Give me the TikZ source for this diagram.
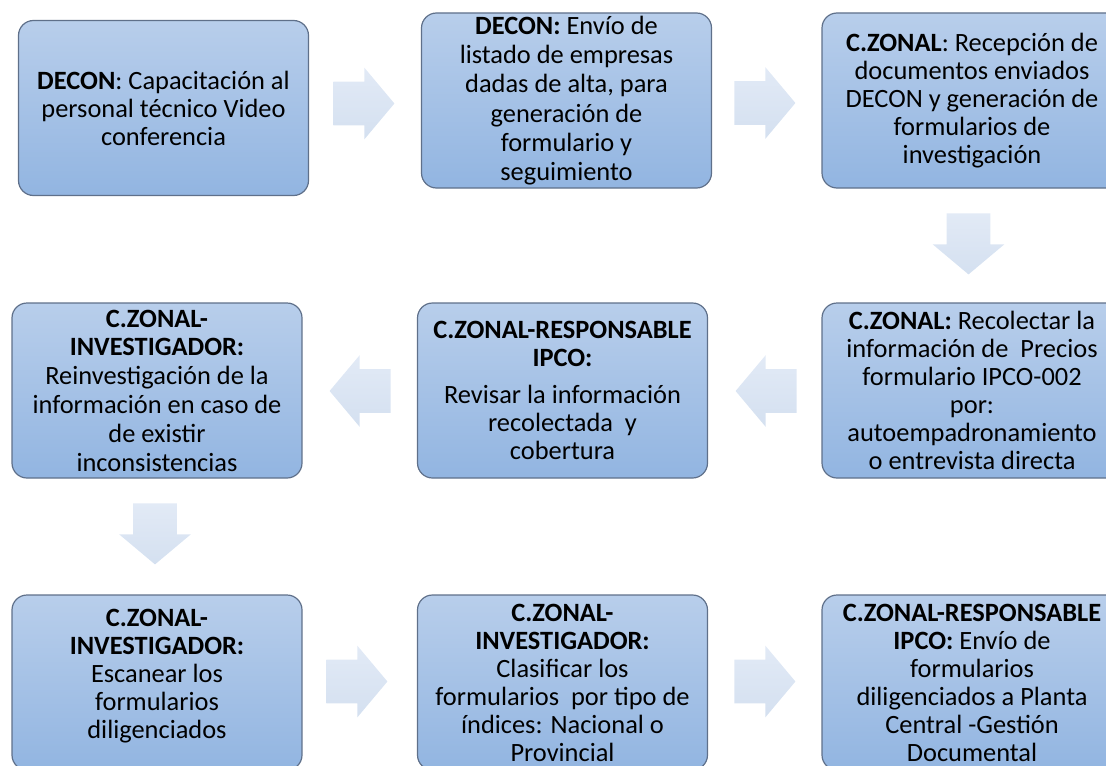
\documentclass[tikz,border=0pt]{standalone}
\usepackage{fontspec}
\setmainfont{Carlito}
\usetikzlibrary{shapes.arrows}
\definecolor{boxtop}{RGB}{184,206,235}
\definecolor{boxbot}{RGB}{146,181,225}
\definecolor{boxline}{RGB}{95,112,138}
\definecolor{arrtop}{RGB}{226,234,246}
\definecolor{arrbot}{RGB}{212,224,240}
\begin{document}
\begin{tikzpicture}[x=0.5pt,y=-0.5pt,
    stepbox/.style={draw=boxline,line width=0.6pt,rounded corners=7.5pt,
      top color=boxtop,bottom color=boxbot,inner sep=0pt,
      minimum width=145pt,minimum height=87.5pt,align=center,
      font=\fontsize{13.2}{14}\selectfont},
    wide/.style={minimum width=150pt},
    blockarrow/.style={single arrow,draw=none,anchor=tail,
      inner xsep=0pt,inner ysep=10.75pt,minimum height=30.5pt,
      single arrow head extend=7pt,single arrow tip angle=100,
      top color=arrtop,bottom color=arrbot},
    downarrow/.style={blockarrow,shape border rotate=270,
      inner xsep=10.75pt,inner ysep=0pt}]
  \clip (0,0) rectangle (1106,765);
  % row 1
  \node[stepbox] (b1) at (163.5,108) {\textbf{DECON}: Capacitación al\\personal técnico Video\\conferencia};
  \node[stepbox,font=\fontsize{13.2}{14.65}\selectfont] (b2) at (566.5,100.5) {\textbf{DECON:} Envío de\\listado de empresas\\dadas de alta, para\\generación de\\formulario y\\seguimiento};
  \node[stepbox,wide] (b3) at (972,100.5) {\textbf{C.ZONAL}: Recepción de\\documentos enviados\\DECON y generación de\\formularios de\\investigación};
  % row 2
  \node[stepbox,font=\fontsize{13.2}{14.4}\selectfont] (b4) at (157,390.5) {\textbf{C.ZONAL-}\\\textbf{INVESTIGADOR:}\\Reinvestigación de la\\información en caso de\\de existir\\inconsistencias};
  \node[stepbox] (b5) at (562.5,390.5) {\textbf{C.ZONAL-RESPONSABLE}\\\textbf{IPCO:}\\[4.5pt]Revisar la información\\recolectada\ \ y\\cobertura};
  \node[stepbox,wide] (b6) at (972,390.5) {\textbf{C.ZONAL:} Recolectar la\\información de\ \ Precios\\formulario IPCO-002\\por:\\autoempadronamiento\\o entrevista directa};
  % row 3
  \node[stepbox] (b7) at (157,682.5) {\textbf{C.ZONAL-}\\\textbf{INVESTIGADOR:}\\Escanear los\\formularios\\diligenciados\\[-5pt]\mbox{}};
  \node[stepbox] (b8) at (562.5,682.5) {\textbf{C.ZONAL-}\\\textbf{INVESTIGADOR:}\\Clasificar los\\formularios\ \ por tipo de\\índices: Nacional o\\Provincial};
  \node[stepbox,wide] (b9) at (972,682.5) {\textbf{C.ZONAL-RESPONSABLE}\\\textbf{IPCO:} Envío de\\formularios\\diligenciados a Planta\\Central -Gestión\\Documental};
  % arrows between the steps (placed by their tails)
  \node[blockarrow] (a12) at (333,103.5) {};
  \node[blockarrow] (a23) at (734,103) {};
  \node[downarrow] (a36) at (968.5,213) {};
  \node[blockarrow,shape border rotate=180] (a65) at (797,391) {};
  \node[blockarrow,shape border rotate=180] (a54) at (391,391) {};
  \node[downarrow] (a47) at (155,503) {};
  \node[blockarrow] (a78) at (326,681.5) {};
  \node[blockarrow] (a89) at (734,681.5) {};
\end{tikzpicture}
\end{document}
